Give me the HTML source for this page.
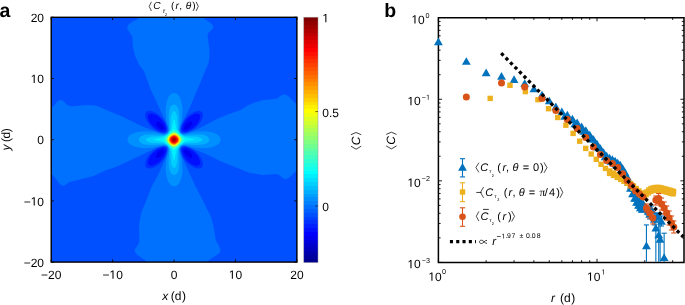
<!DOCTYPE html>
<html><head><meta charset="utf-8"><title>figure</title>
<style>html,body{margin:0;padding:0;background:#fff;width:685px;height:305px;overflow:hidden}svg{display:block}text{stroke:none;fill:#000}svg{will-change:transform}</style>
</head><body>
<svg xmlns="http://www.w3.org/2000/svg" width="685" height="305" viewBox="0 0 685 305" font-family='"Liberation Sans", sans-serif' text-rendering="geometricPrecision">
<defs><clipPath id="clipA"><rect x="51.2" y="17.3" width="245.70" height="244.80"/></clipPath>
<clipPath id="clipB"><rect x="438.4" y="17.7" width="245.60" height="244.70"/></clipPath></defs>
<rect width="685" height="305" fill="#fff"/>
<g>
<g clip-path="url(#clipA)"><rect x="51.2" y="17.3" width="245.70" height="244.80" fill="#0000ef"/>
<path fill="#0010ff" fill-rule="evenodd" d="M296.7 261.8 51.4 261.8 51.4 17.5 296.7 17.5 296.7 261.8ZM163.1 129.8 164.0 129.1 164.2 127.8 162.7 124.6 159.0 121.8 157.4 121.4 156.3 121.8 156.0 124.1 157.7 127.1 160.0 129.1 163.1 129.8ZM186.4 129.8 188.6 128.8 191.1 126.1 192.3 123.5 191.7 121.7 190.4 121.5 188.4 122.2 184.7 125.5 183.9 127.5 184.0 129.0 185.0 129.8 186.4 129.8ZM158.4 157.8 161.0 156.4 163.2 154.1 164.2 151.5 163.5 149.8 162.0 149.5 160.0 150.3 156.9 153.5 155.9 155.5 155.9 157.1 156.7 157.9 158.4 157.8ZM191.5 157.8 192.3 156.8 192.2 155.5 190.2 152.1 187.0 149.8 185.4 149.5 184.4 150.0 184.0 152.1 185.7 155.1 189.0 157.5 191.5 157.8Z"/>
<path fill="#0030ff" fill-rule="evenodd" d="M296.7 261.8 51.4 261.8 51.4 17.5 296.7 17.5 296.7 261.8ZM163.9 131.8 165.7 130.6 166.2 128.5 164.7 124.1 161.9 119.8 158.8 116.8 155.0 114.5 151.4 113.5 149.0 114.1 147.9 115.8 148.1 118.5 149.4 121.7 151.7 125.1 157.4 129.8 161.7 131.6 163.9 131.8ZM185.5 131.8 191.8 129.1 197.0 124.3 199.0 121.1 200.1 118.1 200.2 115.8 199.1 114.1 196.7 113.5 193.0 114.5 189.0 117.0 185.7 120.5 183.4 124.2 181.9 128.8 182.8 131.1 185.5 131.8ZM152.3 165.8 158.1 163.1 163.0 158.1 164.8 155.1 166.2 151.1 166.1 149.5 165.0 148.1 162.7 147.6 157.7 149.5 153.9 152.1 150.7 155.6 148.4 159.8 147.9 163.5 149.4 165.5 152.3 165.8ZM198.0 165.8 199.8 164.5 200.2 161.8 199.0 158.2 196.5 154.5 193.4 151.4 189.7 149.1 185.0 147.5 183.0 148.1 182.0 149.8 182.1 151.8 183.7 155.9 186.4 159.7 189.2 162.5 192.4 164.6 195.4 165.7 198.0 165.8Z"/>
<path fill="#0050ff" fill-rule="evenodd" d="M296.7 261.8 51.4 261.8 51.4 17.5 296.7 17.5 296.7 261.8ZM164.6 132.8 166.7 131.4 167.2 128.1 165.1 122.1 162.4 118.2 158.0 114.2 153.4 111.6 149.4 110.8 146.4 111.8 145.2 114.1 145.5 117.5 147.2 121.5 150.3 125.8 153.5 128.8 157.1 131.1 161.8 132.8 164.6 132.8ZM186.3 132.8 193.2 129.8 196.9 126.8 199.4 123.8 201.6 120.1 202.8 116.5 202.8 113.5 201.4 111.5 198.0 110.8 193.4 112.2 188.4 115.5 184.4 119.9 181.7 125.3 180.9 129.8 181.4 131.5 182.6 132.5 186.3 132.8ZM150.9 168.5 154.4 167.3 158.4 164.9 164.0 159.1 165.8 155.8 167.2 151.5 167.1 148.8 165.9 147.1 162.7 146.5 156.9 148.5 152.5 151.5 148.5 155.8 145.8 160.8 145.2 165.5 145.9 167.1 147.0 168.1 150.9 168.5ZM200.1 168.5 202.4 166.8 202.9 163.5 201.6 159.1 198.3 154.1 194.4 150.4 190.0 147.9 185.2 146.5 182.0 147.3 180.9 149.5 181.0 152.1 183.0 157.4 185.7 161.2 189.0 164.4 193.0 167.0 196.7 168.4 200.1 168.5Z"/>
<path fill="#0070ff" fill-rule="evenodd" d="M207.4 261.8 146.0 261.8 144.4 259.8 137.0 254.8 134.9 252.1 134.8 249.5 138.2 244.5 139.4 241.1 139.0 225.8 140.7 214.2 151.7 186.6 158.6 174.1 166.7 155.2 168.0 149.1 167.6 147.8 165.9 146.1 162.7 145.9 158.0 147.2 117.0 166.6 104.7 170.8 93.7 176.1 69.7 182.1 64.0 185.8 62.0 185.6 59.8 184.1 53.4 175.8 51.4 174.3 51.4 107.6 53.4 106.2 57.0 101.8 59.7 100.1 62.7 100.4 67.0 104.7 70.0 106.1 73.0 106.3 86.0 105.0 95.7 105.6 122.7 116.8 142.0 126.2 159.0 132.6 162.0 133.5 165.0 133.6 167.7 131.5 167.8 127.8 166.4 123.5 150.3 88.5 144.1 71.5 138.8 64.1 135.1 56.1 132.9 47.1 132.3 36.5 127.2 28.8 127.4 26.6 128.9 24.1 132.4 21.7 137.7 19.1 139.4 17.5 203.3 17.5 204.7 19.1 210.8 23.1 212.9 25.8 213.2 27.5 212.7 28.8 208.5 32.8 207.5 35.1 209.4 49.8 209.4 57.1 208.5 63.1 189.7 108.0 181.3 124.5 180.3 127.8 180.1 130.5 180.7 131.9 182.4 133.4 186.7 133.3 198.4 128.8 218.4 118.3 229.7 113.7 240.0 110.2 248.5 105.1 253.4 102.9 263.7 99.9 276.7 98.8 282.7 94.6 285.1 94.5 288.0 95.7 294.7 102.4 296.7 103.8 296.7 171.2 294.7 172.3 290.0 177.0 287.0 178.7 285.0 179.0 283.4 178.6 279.1 175.1 276.7 174.1 262.4 174.9 249.4 172.8 221.0 161.5 209.7 155.8 189.0 146.9 186.0 146.0 183.0 145.8 180.4 148.0 180.1 150.1 180.7 153.1 185.2 164.1 194.9 185.1 210.4 215.5 213.2 224.5 215.8 240.1 220.4 249.1 220.2 251.8 218.7 253.8 209.8 259.5 207.4 261.8Z"/>
<path fill="#008fff" fill-rule="evenodd" d="M175.0 186.2 172.0 185.9 169.7 184.1 168.1 181.5 166.4 176.1 165.5 169.5 165.9 162.1 168.6 149.8 168.3 148.1 167.3 146.5 165.7 145.5 163.7 145.2 153.7 147.6 144.4 148.2 140.4 147.8 135.7 146.9 130.6 144.8 128.3 142.5 127.4 139.8 128.3 136.8 130.7 134.5 135.7 132.5 140.4 131.6 144.4 131.2 154.0 131.8 163.7 134.3 165.7 134.0 167.4 132.9 168.4 131.1 168.6 129.5 166.1 119.5 165.5 110.1 165.9 106.1 166.9 101.1 169.0 96.1 171.4 93.9 174.0 93.1 176.7 93.8 179.1 96.1 181.2 101.1 182.2 106.1 182.6 110.1 182.0 119.5 179.5 129.5 179.7 131.1 180.7 132.9 182.4 134.0 184.4 134.3 194.4 131.8 203.7 131.2 207.7 131.5 212.7 132.6 217.7 134.7 220.0 137.1 220.7 139.8 219.8 142.5 217.5 144.8 212.4 146.9 207.7 147.9 203.7 148.2 194.4 147.6 184.4 145.2 182.4 145.5 180.8 146.5 179.6 148.5 179.5 150.1 181.9 159.8 182.6 169.1 182.3 172.8 181.3 177.8 179.6 182.5 177.7 184.9 175.0 186.2Z"/>
<path fill="#00afff" fill-rule="evenodd" d="M174.0 175.2 171.0 173.4 169.2 169.5 168.6 161.8 169.2 149.8 167.7 146.1 164.0 144.5 152.0 145.1 144.4 144.6 140.4 142.7 138.6 139.8 140.2 136.8 144.4 134.8 152.4 134.3 164.4 134.9 167.7 133.3 169.2 129.8 168.6 117.8 169.2 110.1 171.0 106.0 174.0 104.2 177.0 105.9 178.9 110.1 179.5 117.8 178.9 129.8 180.4 133.3 183.7 134.9 195.7 134.3 203.7 134.8 207.9 136.8 209.5 139.8 207.7 142.8 203.7 144.6 196.0 145.1 184.0 144.5 180.4 146.1 178.9 149.5 179.5 161.8 178.9 169.5 177.0 173.5 174.0 175.2Z"/>
<path fill="#00cfff" fill-rule="evenodd" d="M174.4 168.2 172.7 167.3 171.2 163.8 170.2 149.8 168.0 145.8 164.0 143.5 150.4 142.7 146.6 141.1 145.5 139.8 146.3 138.5 150.1 136.8 164.0 135.9 168.0 133.6 170.2 129.5 171.1 116.1 172.7 112.1 174.0 111.1 175.4 112.1 177.0 116.1 177.9 129.5 180.0 133.6 184.0 135.9 198.0 136.8 201.8 138.5 202.6 139.8 201.5 141.1 197.7 142.7 184.0 143.5 180.1 145.8 177.9 149.8 177.0 163.3 175.7 166.7 174.4 168.2Z"/>
<path fill="#00efff" fill-rule="evenodd" d="M174.4 159.9 173.5 159.5 171.5 150.1 168.3 145.5 163.7 142.3 153.8 139.8 154.2 139.1 163.7 137.1 168.4 133.9 171.4 129.5 173.4 120.4 174.0 119.5 174.7 120.2 176.7 129.5 179.7 133.8 184.4 137.1 193.9 139.1 194.3 139.8 184.4 142.3 179.8 145.5 176.6 150.1 174.4 159.9Z"/>
<path fill="#10ffef" fill-rule="evenodd" d="M174.4 150.5 172.4 149.6 168.5 145.1 164.2 141.5 163.2 139.8 164.4 137.8 168.6 134.1 172.4 129.8 174.0 128.8 175.7 129.8 179.5 134.1 183.7 137.8 184.9 139.8 183.9 141.5 174.4 150.5Z"/>
<path fill="#30ffcf" fill-rule="evenodd" d="M174.7 148.9 173.4 148.9 171.0 147.1 166.4 142.5 164.7 139.8 165.2 138.5 167.2 136.1 171.7 131.7 174.0 130.4 176.4 131.7 180.9 136.1 182.9 138.5 183.4 139.8 181.4 142.8 174.7 148.9Z"/>
<path fill="#50ffaf" fill-rule="evenodd" d="M174.7 147.8 172.7 147.6 169.7 145.2 166.6 141.8 165.8 139.8 166.5 137.8 169.0 134.8 172.0 132.2 174.0 131.5 176.0 132.2 178.7 134.5 181.4 137.5 182.3 139.5 181.7 141.5 179.8 143.8 176.7 146.7 174.7 147.8Z"/>
<path fill="#70ff8f" fill-rule="evenodd" d="M174.7 147.1 172.7 146.9 170.0 145.1 167.7 142.5 166.5 139.8 167.1 137.8 169.2 135.1 171.7 133.0 174.0 132.2 176.4 133.0 178.6 134.8 180.8 137.5 181.6 139.5 181.2 141.1 179.4 143.8 177.0 145.9 174.7 147.1Z"/>
<path fill="#8fff70" fill-rule="evenodd" d="M175.0 146.6 173.0 146.5 170.7 145.3 168.0 142.5 167.1 140.1 167.4 138.1 168.9 135.8 171.4 133.6 173.7 132.7 175.7 133.1 178.0 134.6 180.2 137.1 181.0 139.5 180.6 141.5 179.3 143.5 177.0 145.6 175.0 146.6Z"/>
<path fill="#afff50" fill-rule="evenodd" d="M175.0 146.2 173.0 146.2 170.7 144.9 168.4 142.5 167.5 140.1 167.8 138.1 169.3 135.8 171.7 133.8 173.7 133.1 175.7 133.4 178.0 135.0 180.0 137.5 180.7 139.5 180.4 141.1 179.2 143.1 177.0 145.2 175.0 146.2Z"/>
<path fill="#cfff30" fill-rule="evenodd" d="M175.0 145.8 173.0 145.8 170.7 144.6 168.5 142.1 167.8 140.1 168.1 138.1 169.4 136.1 171.4 134.3 173.7 133.4 175.7 133.8 177.7 135.1 179.5 137.1 180.3 139.5 179.9 141.5 178.8 143.1 175.0 145.8Z"/>
<path fill="#efff10" fill-rule="evenodd" d="M175.0 145.5 173.0 145.5 171.0 144.5 169.1 142.5 168.1 140.1 168.4 138.1 169.7 136.1 171.7 134.5 173.7 133.8 175.4 134.0 177.4 135.1 179.2 137.1 180.0 139.1 179.8 140.8 178.8 142.8 177.0 144.5 175.0 145.5Z"/>
<path fill="#ffef00" fill-rule="evenodd" d="M175.0 145.2 173.0 145.2 171.0 144.2 169.2 142.1 168.4 140.1 168.6 138.5 169.7 136.5 171.7 134.8 173.7 134.1 175.4 134.3 177.4 135.5 178.9 137.1 179.7 139.1 179.5 140.8 178.5 142.8 175.0 145.2Z"/>
<path fill="#ffcf00" fill-rule="evenodd" d="M175.4 144.8 173.7 145.1 171.7 144.3 169.7 142.5 168.8 140.5 168.8 138.8 169.8 136.8 171.4 135.3 173.4 134.4 175.4 134.6 177.0 135.5 178.6 137.1 179.4 139.1 179.3 140.8 178.4 142.5 175.4 144.8Z"/>
<path fill="#ffaf00" fill-rule="evenodd" d="M175.4 144.6 173.4 144.7 171.7 144.0 170.0 142.5 169.0 140.5 169.1 138.8 170.0 136.9 171.7 135.4 173.4 134.7 175.0 134.7 176.7 135.6 179.0 138.8 179.1 140.5 178.3 142.1 175.4 144.6Z"/>
<path fill="#ff8f00" fill-rule="evenodd" d="M174.4 144.5 172.7 144.3 171.0 143.2 169.7 141.5 169.2 139.8 169.6 138.1 170.7 136.5 173.7 134.9 175.4 135.1 177.0 136.1 178.4 137.8 178.9 139.5 178.6 141.1 177.5 142.8 174.4 144.5Z"/>
<path fill="#ff7000" fill-rule="evenodd" d="M174.7 144.2 173.0 144.1 171.4 143.2 169.5 140.1 169.7 138.5 170.7 136.8 173.7 135.2 175.4 135.4 177.0 136.5 178.6 139.5 177.7 142.2 174.7 144.2Z"/>
<path fill="#ff5000" fill-rule="evenodd" d="M175.0 143.8 172.0 143.3 169.9 140.5 170.6 137.5 173.4 135.5 176.4 136.3 178.3 139.1 177.6 141.8 175.0 143.8Z"/>
<path fill="#ff3000" fill-rule="evenodd" d="M175.0 143.5 173.4 143.6 172.0 143.0 170.2 140.5 170.7 137.8 173.4 135.8 176.1 136.5 177.9 139.1 177.3 141.8 175.0 143.5Z"/>
<path fill="#ff1000" fill-rule="evenodd" d="M175.0 143.2 172.4 142.8 170.5 140.5 171.0 137.8 173.5 136.1 176.0 136.7 177.6 139.1 177.1 141.5 175.0 143.2Z"/>
<path fill="#ef0000" fill-rule="evenodd" d="M174.4 142.8 172.0 142.0 170.9 139.8 171.7 137.8 173.7 136.6 176.0 137.4 177.2 139.5 176.4 141.6 174.4 142.8Z"/>
<path fill="#cf0000" fill-rule="evenodd" d="M174.4 142.2 172.7 141.7 171.6 140.1 172.0 138.3 173.7 137.2 175.6 137.8 176.5 139.5 176.0 141.1 174.4 142.2Z"/>
<path fill="#af0000" fill-rule="evenodd" d="M174.4 141.5 173.0 141.2 172.3 140.1 172.5 138.8 173.7 137.9 175.0 138.2 175.8 139.5 175.5 140.8 174.4 141.5Z"/>
<path fill="#8f0000" fill-rule="evenodd" d="M174.0 140.5 173.3 139.8 174.0 138.9 174.8 139.8 174.0 140.5Z"/></g>
<line stroke="#000" stroke-width="0.9" x1="51.20" y1="17.30" x2="51.20" y2="19.90"/>
<line stroke="#000" stroke-width="0.9" x1="51.20" y1="262.10" x2="51.20" y2="259.50"/>
<line stroke="#000" stroke-width="0.9" x1="51.20" y1="262.10" x2="53.80" y2="262.10"/>
<line stroke="#000" stroke-width="0.9" x1="296.90" y1="262.10" x2="294.30" y2="262.10"/>
<line stroke="#000" stroke-width="0.9" x1="112.63" y1="17.30" x2="112.63" y2="19.90"/>
<line stroke="#000" stroke-width="0.9" x1="112.63" y1="262.10" x2="112.63" y2="259.50"/>
<line stroke="#000" stroke-width="0.9" x1="51.20" y1="200.90" x2="53.80" y2="200.90"/>
<line stroke="#000" stroke-width="0.9" x1="296.90" y1="200.90" x2="294.30" y2="200.90"/>
<line stroke="#000" stroke-width="0.9" x1="174.05" y1="17.30" x2="174.05" y2="19.90"/>
<line stroke="#000" stroke-width="0.9" x1="174.05" y1="262.10" x2="174.05" y2="259.50"/>
<line stroke="#000" stroke-width="0.9" x1="51.20" y1="139.70" x2="53.80" y2="139.70"/>
<line stroke="#000" stroke-width="0.9" x1="296.90" y1="139.70" x2="294.30" y2="139.70"/>
<line stroke="#000" stroke-width="0.9" x1="235.48" y1="17.30" x2="235.48" y2="19.90"/>
<line stroke="#000" stroke-width="0.9" x1="235.48" y1="262.10" x2="235.48" y2="259.50"/>
<line stroke="#000" stroke-width="0.9" x1="51.20" y1="78.50" x2="53.80" y2="78.50"/>
<line stroke="#000" stroke-width="0.9" x1="296.90" y1="78.50" x2="294.30" y2="78.50"/>
<line stroke="#000" stroke-width="0.9" x1="296.90" y1="17.30" x2="296.90" y2="19.90"/>
<line stroke="#000" stroke-width="0.9" x1="296.90" y1="262.10" x2="296.90" y2="259.50"/>
<line stroke="#000" stroke-width="0.9" x1="51.20" y1="17.30" x2="53.80" y2="17.30"/>
<line stroke="#000" stroke-width="0.9" x1="296.90" y1="17.30" x2="294.30" y2="17.30"/>
<rect x="51.20" y="17.30" width="245.70" height="244.80" fill="none" stroke="#000" stroke-width="1.4"/>
<text x="51.20" y="278.70" font-size="12" text-anchor="middle" >−20</text>
<text x="44.00" y="266.70" font-size="12" text-anchor="end" >−20</text>
<text x="102.45" y="278.70" font-size="12">−</text><path d="M112.47 278.70 112.47 271.45 110.61 272.78 110.61 271.79 112.56 270.44 113.53 270.44 113.53 278.70Z" fill="#000"/><text x="116.13" y="278.70" font-size="12">0</text>
<text x="23.64" y="205.50" font-size="12">−</text><path d="M33.67 205.50 33.67 198.25 31.81 199.58 31.81 198.59 33.76 197.24 34.73 197.24 34.73 205.50Z" fill="#000"/><text x="37.33" y="205.50" font-size="12">0</text>
<text x="174.05" y="278.70" font-size="12" text-anchor="middle" >0</text>
<text x="44.00" y="144.30" font-size="12" text-anchor="end" >0</text>
<path d="M231.82 278.70 231.82 271.45 229.96 272.78 229.96 271.79 231.91 270.44 232.88 270.44 232.88 278.70Z" fill="#000"/><text x="235.48" y="278.70" font-size="12">0</text>
<path d="M33.67 83.10 33.67 75.85 31.81 77.18 31.81 76.19 33.76 74.84 34.73 74.84 34.73 83.10Z" fill="#000"/><text x="37.33" y="83.10" font-size="12">0</text>
<text x="296.90" y="278.70" font-size="12" text-anchor="middle" >20</text>
<text x="44.00" y="21.90" font-size="12" text-anchor="end" >20</text>
<text x="162.33" y="300.30" font-size="12" font-style="italic">x</text><text x="170.81" y="300.30" font-size="12">(</text><text x="174.75" y="300.30" font-size="12">d</text><text x="181.98" y="300.30" font-size="12">)</text>
<text transform="translate(9.60,150.42) rotate(-90)" font-size="12" font-style="italic">y</text><text transform="translate(9.60,141.94) rotate(-90)" font-size="12">(</text><text transform="translate(9.60,138.50) rotate(-90)" font-size="12">d</text><text transform="translate(9.60,132.17) rotate(-90)" font-size="12">)</text>
<polyline points="151.40,1.80 149.20,6.40 151.40,11.00" fill="none" stroke="#000" stroke-width="0.7"/>
<text x="153.19" y="9.30" font-size="10.2" font-style="italic">C</text>
<text x="162.73" y="13.40" font-size="6.0" font-style="italic">τ</text>
<text x="164.95" y="15.50" font-size="4.0">2</text>
<text x="171.12" y="9.30" font-size="10.2">(</text>
<text x="175.48" y="9.30" font-size="10.2" font-style="italic">r</text>
<text x="179.13" y="9.30" font-size="10.2">,</text>
<text x="185.65" y="9.30" font-size="10.2" font-style="italic">θ</text>
<text x="192.19" y="9.30" font-size="10.2">)</text>
<polyline points="196.10,1.80 198.30,6.40 196.10,11.00" fill="none" stroke="#000" stroke-width="0.7"/>
<text x="-0.50" y="17.20" font-size="19.5" text-anchor="start" font-weight="bold">a</text>
<defs><linearGradient id="cb" x1="0" y1="0" x2="0" y2="1"><stop offset="0.0000" stop-color="#800000"/><stop offset="0.0156" stop-color="#800000"/><stop offset="0.0156" stop-color="#8f0000"/><stop offset="0.0312" stop-color="#8f0000"/><stop offset="0.0312" stop-color="#9f0000"/><stop offset="0.0469" stop-color="#9f0000"/><stop offset="0.0469" stop-color="#af0000"/><stop offset="0.0625" stop-color="#af0000"/><stop offset="0.0625" stop-color="#bf0000"/><stop offset="0.0781" stop-color="#bf0000"/><stop offset="0.0781" stop-color="#cf0000"/><stop offset="0.0938" stop-color="#cf0000"/><stop offset="0.0938" stop-color="#df0000"/><stop offset="0.1094" stop-color="#df0000"/><stop offset="0.1094" stop-color="#ef0000"/><stop offset="0.1250" stop-color="#ef0000"/><stop offset="0.1250" stop-color="#ff0000"/><stop offset="0.1406" stop-color="#ff0000"/><stop offset="0.1406" stop-color="#ff1000"/><stop offset="0.1562" stop-color="#ff1000"/><stop offset="0.1562" stop-color="#ff2000"/><stop offset="0.1719" stop-color="#ff2000"/><stop offset="0.1719" stop-color="#ff3000"/><stop offset="0.1875" stop-color="#ff3000"/><stop offset="0.1875" stop-color="#ff4000"/><stop offset="0.2031" stop-color="#ff4000"/><stop offset="0.2031" stop-color="#ff5000"/><stop offset="0.2188" stop-color="#ff5000"/><stop offset="0.2188" stop-color="#ff6000"/><stop offset="0.2344" stop-color="#ff6000"/><stop offset="0.2344" stop-color="#ff7000"/><stop offset="0.2500" stop-color="#ff7000"/><stop offset="0.2500" stop-color="#ff8000"/><stop offset="0.2656" stop-color="#ff8000"/><stop offset="0.2656" stop-color="#ff8f00"/><stop offset="0.2812" stop-color="#ff8f00"/><stop offset="0.2812" stop-color="#ff9f00"/><stop offset="0.2969" stop-color="#ff9f00"/><stop offset="0.2969" stop-color="#ffaf00"/><stop offset="0.3125" stop-color="#ffaf00"/><stop offset="0.3125" stop-color="#ffbf00"/><stop offset="0.3281" stop-color="#ffbf00"/><stop offset="0.3281" stop-color="#ffcf00"/><stop offset="0.3438" stop-color="#ffcf00"/><stop offset="0.3438" stop-color="#ffdf00"/><stop offset="0.3594" stop-color="#ffdf00"/><stop offset="0.3594" stop-color="#ffef00"/><stop offset="0.3750" stop-color="#ffef00"/><stop offset="0.3750" stop-color="#ffff00"/><stop offset="0.3906" stop-color="#ffff00"/><stop offset="0.3906" stop-color="#efff10"/><stop offset="0.4062" stop-color="#efff10"/><stop offset="0.4062" stop-color="#dfff20"/><stop offset="0.4219" stop-color="#dfff20"/><stop offset="0.4219" stop-color="#cfff30"/><stop offset="0.4375" stop-color="#cfff30"/><stop offset="0.4375" stop-color="#bfff40"/><stop offset="0.4531" stop-color="#bfff40"/><stop offset="0.4531" stop-color="#afff50"/><stop offset="0.4688" stop-color="#afff50"/><stop offset="0.4688" stop-color="#9fff60"/><stop offset="0.4844" stop-color="#9fff60"/><stop offset="0.4844" stop-color="#8fff70"/><stop offset="0.5000" stop-color="#8fff70"/><stop offset="0.5000" stop-color="#80ff80"/><stop offset="0.5156" stop-color="#80ff80"/><stop offset="0.5156" stop-color="#70ff8f"/><stop offset="0.5312" stop-color="#70ff8f"/><stop offset="0.5312" stop-color="#60ff9f"/><stop offset="0.5469" stop-color="#60ff9f"/><stop offset="0.5469" stop-color="#50ffaf"/><stop offset="0.5625" stop-color="#50ffaf"/><stop offset="0.5625" stop-color="#40ffbf"/><stop offset="0.5781" stop-color="#40ffbf"/><stop offset="0.5781" stop-color="#30ffcf"/><stop offset="0.5938" stop-color="#30ffcf"/><stop offset="0.5938" stop-color="#20ffdf"/><stop offset="0.6094" stop-color="#20ffdf"/><stop offset="0.6094" stop-color="#10ffef"/><stop offset="0.6250" stop-color="#10ffef"/><stop offset="0.6250" stop-color="#00ffff"/><stop offset="0.6406" stop-color="#00ffff"/><stop offset="0.6406" stop-color="#00efff"/><stop offset="0.6562" stop-color="#00efff"/><stop offset="0.6562" stop-color="#00dfff"/><stop offset="0.6719" stop-color="#00dfff"/><stop offset="0.6719" stop-color="#00cfff"/><stop offset="0.6875" stop-color="#00cfff"/><stop offset="0.6875" stop-color="#00bfff"/><stop offset="0.7031" stop-color="#00bfff"/><stop offset="0.7031" stop-color="#00afff"/><stop offset="0.7188" stop-color="#00afff"/><stop offset="0.7188" stop-color="#009fff"/><stop offset="0.7344" stop-color="#009fff"/><stop offset="0.7344" stop-color="#008fff"/><stop offset="0.7500" stop-color="#008fff"/><stop offset="0.7500" stop-color="#0080ff"/><stop offset="0.7656" stop-color="#0080ff"/><stop offset="0.7656" stop-color="#0070ff"/><stop offset="0.7812" stop-color="#0070ff"/><stop offset="0.7812" stop-color="#0060ff"/><stop offset="0.7969" stop-color="#0060ff"/><stop offset="0.7969" stop-color="#0050ff"/><stop offset="0.8125" stop-color="#0050ff"/><stop offset="0.8125" stop-color="#0040ff"/><stop offset="0.8281" stop-color="#0040ff"/><stop offset="0.8281" stop-color="#0030ff"/><stop offset="0.8438" stop-color="#0030ff"/><stop offset="0.8438" stop-color="#0020ff"/><stop offset="0.8594" stop-color="#0020ff"/><stop offset="0.8594" stop-color="#0010ff"/><stop offset="0.8750" stop-color="#0010ff"/><stop offset="0.8750" stop-color="#0000ff"/><stop offset="0.8906" stop-color="#0000ff"/><stop offset="0.8906" stop-color="#0000ef"/><stop offset="0.9062" stop-color="#0000ef"/><stop offset="0.9062" stop-color="#0000df"/><stop offset="0.9219" stop-color="#0000df"/><stop offset="0.9219" stop-color="#0000cf"/><stop offset="0.9375" stop-color="#0000cf"/><stop offset="0.9375" stop-color="#0000bf"/><stop offset="0.9531" stop-color="#0000bf"/><stop offset="0.9531" stop-color="#0000af"/><stop offset="0.9688" stop-color="#0000af"/><stop offset="0.9688" stop-color="#00009f"/><stop offset="0.9844" stop-color="#00009f"/><stop offset="0.9844" stop-color="#00008f"/><stop offset="1.0000" stop-color="#00008f"/></linearGradient></defs>
<rect x="303.8" y="17.2" width="14.20" height="245.40" fill="url(#cb)" stroke="#999" stroke-width="0.5"/>
<path d="M325.32 22.20 325.32 14.95 323.45 16.28 323.45 15.29 325.41 13.94 326.38 13.94 326.38 22.20Z" fill="#000"/>
<line stroke="#000" x1="315.40" y1="111.58" x2="318.00" y2="111.58" stroke-width="0.6"/>
<text x="322.30" y="116.58" font-size="12" text-anchor="start" >0.5</text>
<line stroke="#000" x1="315.40" y1="205.97" x2="318.00" y2="205.97" stroke-width="0.6"/>
<text x="322.30" y="210.97" font-size="12" text-anchor="start" >0</text>
<polyline points="350.90,134.70 356.10,132.50 361.20,134.70" fill="none" stroke="#000" stroke-width="0.75"/><polyline points="350.90,146.20 356.10,149.20 361.20,146.20" fill="none" stroke="#000" stroke-width="0.75"/><text transform="translate(359.50,145.16) rotate(-90)" font-size="12" font-style="italic">C</text>
<text x="384.20" y="17.30" font-size="19.5" text-anchor="start" font-weight="bold">b</text>
<line stroke="#000" stroke-width="0.9" x1="438.40" y1="262.40" x2="438.40" y2="258.80"/>
<line stroke="#000" stroke-width="0.9" x1="438.40" y1="17.70" x2="438.40" y2="21.30"/>
<line stroke="#000" stroke-width="0.9" x1="486.14" y1="262.40" x2="486.14" y2="260.20"/>
<line stroke="#000" stroke-width="0.9" x1="486.14" y1="17.70" x2="486.14" y2="19.90"/>
<line stroke="#000" stroke-width="0.9" x1="514.07" y1="262.40" x2="514.07" y2="260.20"/>
<line stroke="#000" stroke-width="0.9" x1="514.07" y1="17.70" x2="514.07" y2="19.90"/>
<line stroke="#000" stroke-width="0.9" x1="533.89" y1="262.40" x2="533.89" y2="260.20"/>
<line stroke="#000" stroke-width="0.9" x1="533.89" y1="17.70" x2="533.89" y2="19.90"/>
<line stroke="#000" stroke-width="0.9" x1="549.26" y1="262.40" x2="549.26" y2="260.20"/>
<line stroke="#000" stroke-width="0.9" x1="549.26" y1="17.70" x2="549.26" y2="19.90"/>
<line stroke="#000" stroke-width="0.9" x1="561.81" y1="262.40" x2="561.81" y2="260.20"/>
<line stroke="#000" stroke-width="0.9" x1="561.81" y1="17.70" x2="561.81" y2="19.90"/>
<line stroke="#000" stroke-width="0.9" x1="572.43" y1="262.40" x2="572.43" y2="260.20"/>
<line stroke="#000" stroke-width="0.9" x1="572.43" y1="17.70" x2="572.43" y2="19.90"/>
<line stroke="#000" stroke-width="0.9" x1="581.63" y1="262.40" x2="581.63" y2="260.20"/>
<line stroke="#000" stroke-width="0.9" x1="581.63" y1="17.70" x2="581.63" y2="19.90"/>
<line stroke="#000" stroke-width="0.9" x1="589.74" y1="262.40" x2="589.74" y2="260.20"/>
<line stroke="#000" stroke-width="0.9" x1="589.74" y1="17.70" x2="589.74" y2="19.90"/>
<line stroke="#000" stroke-width="0.9" x1="597.00" y1="262.40" x2="597.00" y2="258.80"/>
<line stroke="#000" stroke-width="0.9" x1="597.00" y1="17.70" x2="597.00" y2="21.30"/>
<line stroke="#000" stroke-width="0.9" x1="644.74" y1="262.40" x2="644.74" y2="260.20"/>
<line stroke="#000" stroke-width="0.9" x1="644.74" y1="17.70" x2="644.74" y2="19.90"/>
<line stroke="#000" stroke-width="0.9" x1="672.67" y1="262.40" x2="672.67" y2="260.20"/>
<line stroke="#000" stroke-width="0.9" x1="672.67" y1="17.70" x2="672.67" y2="19.90"/>
<line stroke="#000" stroke-width="0.9" x1="438.40" y1="262.40" x2="442.00" y2="262.40"/>
<line stroke="#000" stroke-width="0.9" x1="684.00" y1="262.40" x2="680.40" y2="262.40"/>
<line stroke="#000" stroke-width="0.9" x1="438.40" y1="237.85" x2="440.60" y2="237.85"/>
<line stroke="#000" stroke-width="0.9" x1="684.00" y1="237.85" x2="681.80" y2="237.85"/>
<line stroke="#000" stroke-width="0.9" x1="438.40" y1="223.48" x2="440.60" y2="223.48"/>
<line stroke="#000" stroke-width="0.9" x1="684.00" y1="223.48" x2="681.80" y2="223.48"/>
<line stroke="#000" stroke-width="0.9" x1="438.40" y1="213.29" x2="440.60" y2="213.29"/>
<line stroke="#000" stroke-width="0.9" x1="684.00" y1="213.29" x2="681.80" y2="213.29"/>
<line stroke="#000" stroke-width="0.9" x1="438.40" y1="205.39" x2="440.60" y2="205.39"/>
<line stroke="#000" stroke-width="0.9" x1="684.00" y1="205.39" x2="681.80" y2="205.39"/>
<line stroke="#000" stroke-width="0.9" x1="438.40" y1="198.93" x2="440.60" y2="198.93"/>
<line stroke="#000" stroke-width="0.9" x1="684.00" y1="198.93" x2="681.80" y2="198.93"/>
<line stroke="#000" stroke-width="0.9" x1="438.40" y1="193.47" x2="440.60" y2="193.47"/>
<line stroke="#000" stroke-width="0.9" x1="684.00" y1="193.47" x2="681.80" y2="193.47"/>
<line stroke="#000" stroke-width="0.9" x1="438.40" y1="188.74" x2="440.60" y2="188.74"/>
<line stroke="#000" stroke-width="0.9" x1="684.00" y1="188.74" x2="681.80" y2="188.74"/>
<line stroke="#000" stroke-width="0.9" x1="438.40" y1="184.57" x2="440.60" y2="184.57"/>
<line stroke="#000" stroke-width="0.9" x1="684.00" y1="184.57" x2="681.80" y2="184.57"/>
<line stroke="#000" stroke-width="0.9" x1="438.40" y1="180.83" x2="442.00" y2="180.83"/>
<line stroke="#000" stroke-width="0.9" x1="684.00" y1="180.83" x2="680.40" y2="180.83"/>
<line stroke="#000" stroke-width="0.9" x1="438.40" y1="156.28" x2="440.60" y2="156.28"/>
<line stroke="#000" stroke-width="0.9" x1="684.00" y1="156.28" x2="681.80" y2="156.28"/>
<line stroke="#000" stroke-width="0.9" x1="438.40" y1="141.92" x2="440.60" y2="141.92"/>
<line stroke="#000" stroke-width="0.9" x1="684.00" y1="141.92" x2="681.80" y2="141.92"/>
<line stroke="#000" stroke-width="0.9" x1="438.40" y1="131.73" x2="440.60" y2="131.73"/>
<line stroke="#000" stroke-width="0.9" x1="684.00" y1="131.73" x2="681.80" y2="131.73"/>
<line stroke="#000" stroke-width="0.9" x1="438.40" y1="123.82" x2="440.60" y2="123.82"/>
<line stroke="#000" stroke-width="0.9" x1="684.00" y1="123.82" x2="681.80" y2="123.82"/>
<line stroke="#000" stroke-width="0.9" x1="438.40" y1="117.36" x2="440.60" y2="117.36"/>
<line stroke="#000" stroke-width="0.9" x1="684.00" y1="117.36" x2="681.80" y2="117.36"/>
<line stroke="#000" stroke-width="0.9" x1="438.40" y1="111.90" x2="440.60" y2="111.90"/>
<line stroke="#000" stroke-width="0.9" x1="684.00" y1="111.90" x2="681.80" y2="111.90"/>
<line stroke="#000" stroke-width="0.9" x1="438.40" y1="107.17" x2="440.60" y2="107.17"/>
<line stroke="#000" stroke-width="0.9" x1="684.00" y1="107.17" x2="681.80" y2="107.17"/>
<line stroke="#000" stroke-width="0.9" x1="438.40" y1="103.00" x2="440.60" y2="103.00"/>
<line stroke="#000" stroke-width="0.9" x1="684.00" y1="103.00" x2="681.80" y2="103.00"/>
<line stroke="#000" stroke-width="0.9" x1="438.40" y1="99.27" x2="442.00" y2="99.27"/>
<line stroke="#000" stroke-width="0.9" x1="684.00" y1="99.27" x2="680.40" y2="99.27"/>
<line stroke="#000" stroke-width="0.9" x1="438.40" y1="74.71" x2="440.60" y2="74.71"/>
<line stroke="#000" stroke-width="0.9" x1="684.00" y1="74.71" x2="681.80" y2="74.71"/>
<line stroke="#000" stroke-width="0.9" x1="438.40" y1="60.35" x2="440.60" y2="60.35"/>
<line stroke="#000" stroke-width="0.9" x1="684.00" y1="60.35" x2="681.80" y2="60.35"/>
<line stroke="#000" stroke-width="0.9" x1="438.40" y1="50.16" x2="440.60" y2="50.16"/>
<line stroke="#000" stroke-width="0.9" x1="684.00" y1="50.16" x2="681.80" y2="50.16"/>
<line stroke="#000" stroke-width="0.9" x1="438.40" y1="42.25" x2="440.60" y2="42.25"/>
<line stroke="#000" stroke-width="0.9" x1="684.00" y1="42.25" x2="681.80" y2="42.25"/>
<line stroke="#000" stroke-width="0.9" x1="438.40" y1="35.80" x2="440.60" y2="35.80"/>
<line stroke="#000" stroke-width="0.9" x1="684.00" y1="35.80" x2="681.80" y2="35.80"/>
<line stroke="#000" stroke-width="0.9" x1="438.40" y1="30.33" x2="440.60" y2="30.33"/>
<line stroke="#000" stroke-width="0.9" x1="684.00" y1="30.33" x2="681.80" y2="30.33"/>
<line stroke="#000" stroke-width="0.9" x1="438.40" y1="25.60" x2="440.60" y2="25.60"/>
<line stroke="#000" stroke-width="0.9" x1="684.00" y1="25.60" x2="681.80" y2="25.60"/>
<line stroke="#000" stroke-width="0.9" x1="438.40" y1="21.43" x2="440.60" y2="21.43"/>
<line stroke="#000" stroke-width="0.9" x1="684.00" y1="21.43" x2="681.80" y2="21.43"/>
<path d="M438.4 17.7H684.0V262.4H438.4Z" fill="none" stroke="#000" stroke-width="1.5"/>
<text x="425.42" y="18.10" font-size="7.2">0</text>
<path d="M414.44 23.60 414.44 16.35 412.58 17.68 412.58 16.69 414.53 15.34 415.50 15.34 415.50 23.60Z" fill="#000"/><text x="418.09" y="23.60" font-size="12">0</text>
<text x="421.84" y="99.67" font-size="7.2">−</text><path d="M427.86 99.67 427.86 95.32 426.74 96.12 426.74 95.52 427.91 94.71 428.50 94.71 428.50 99.67Z" fill="#000"/>
<path d="M410.44 105.17 410.44 97.92 408.58 99.25 408.58 98.25 410.53 96.91 411.50 96.91 411.50 105.17Z" fill="#000"/><text x="414.09" y="105.17" font-size="12">0</text>
<text x="421.84" y="181.23" font-size="7.2">−2</text>
<path d="M410.44 186.73 410.44 179.49 408.58 180.82 408.58 179.82 410.53 178.48 411.50 178.48 411.50 186.73Z" fill="#000"/><text x="414.09" y="186.73" font-size="12">0</text>
<text x="421.84" y="262.80" font-size="7.2">−3</text>
<path d="M410.44 268.30 410.44 261.05 408.58 262.38 408.58 261.39 410.53 260.04 411.50 260.04 411.50 268.30Z" fill="#000"/><text x="414.09" y="268.30" font-size="12">0</text>
<path d="M431.40 280.70 431.40 273.45 429.54 274.78 429.54 273.79 431.49 272.44 432.46 272.44 432.46 280.70Z" fill="#000"/><text x="435.06" y="280.70" font-size="12">0</text>
<text x="442.12" y="274.40" font-size="7.2">0</text>
<path d="M590.00 280.70 590.00 273.45 588.14 274.78 588.14 273.79 590.09 272.44 591.06 272.44 591.06 280.70Z" fill="#000"/><text x="593.66" y="280.70" font-size="12">0</text>
<path d="M603.16 274.40 603.16 270.05 602.04 270.85 602.04 270.25 603.21 269.45 603.80 269.45 603.80 274.40Z" fill="#000"/>
<text x="550.95" y="301.90" font-size="12" font-style="italic">r</text><text x="560.11" y="301.90" font-size="12">(</text><text x="564.05" y="301.90" font-size="12">d</text><text x="571.28" y="301.90" font-size="12">)</text>
<polyline points="386.20,134.40 391.40,132.20 396.50,134.40" fill="none" stroke="#000" stroke-width="0.75"/><polyline points="386.20,145.90 391.40,148.90 396.50,145.90" fill="none" stroke="#000" stroke-width="0.75"/><text transform="translate(394.80,144.86) rotate(-90)" font-size="12" font-style="italic">C</text>
<g><g stroke="#0072bd" stroke-width="1.1"><line x1="632.53" y1="190.50" x2="632.53" y2="196.50"/><line x1="629.93" y1="190.50" x2="635.13" y2="190.50"/><line x1="629.93" y1="196.50" x2="635.13" y2="196.50"/></g><g stroke="#0072bd" stroke-width="1.1"><line x1="634.55" y1="195.00" x2="634.55" y2="201.00"/><line x1="631.95" y1="195.00" x2="637.15" y2="195.00"/><line x1="631.95" y1="201.00" x2="637.15" y2="201.00"/></g><g stroke="#0072bd" stroke-width="1.1"><line x1="636.52" y1="199.00" x2="636.52" y2="205.00"/><line x1="633.92" y1="199.00" x2="639.12" y2="199.00"/><line x1="633.92" y1="205.00" x2="639.12" y2="205.00"/></g><g stroke="#0072bd" stroke-width="1.1"><line x1="638.44" y1="202.00" x2="638.44" y2="208.00"/><line x1="635.84" y1="202.00" x2="641.04" y2="202.00"/><line x1="635.84" y1="208.00" x2="641.04" y2="208.00"/></g><g stroke="#0072bd" stroke-width="1.1"><line x1="640.30" y1="204.50" x2="640.30" y2="210.50"/><line x1="637.70" y1="204.50" x2="642.90" y2="204.50"/><line x1="637.70" y1="210.50" x2="642.90" y2="210.50"/></g><g stroke="#0072bd" stroke-width="1.1"><line x1="642.11" y1="206.00" x2="642.11" y2="212.00"/><line x1="639.51" y1="206.00" x2="644.71" y2="206.00"/><line x1="639.51" y1="212.00" x2="644.71" y2="212.00"/></g><g stroke="#0072bd" stroke-width="1.1"><line x1="646.44" y1="224.90" x2="646.44" y2="261.70"/><line x1="643.84" y1="224.90" x2="649.04" y2="224.90"/></g><g stroke="#0072bd" stroke-width="1.1"><line x1="648.10" y1="207.00" x2="648.10" y2="215.00"/><line x1="645.50" y1="207.00" x2="650.70" y2="207.00"/><line x1="645.50" y1="215.00" x2="650.70" y2="215.00"/></g><g stroke="#0072bd" stroke-width="1.1"><line x1="649.72" y1="210.00" x2="649.72" y2="219.00"/><line x1="647.12" y1="210.00" x2="652.32" y2="210.00"/><line x1="647.12" y1="219.00" x2="652.32" y2="219.00"/></g><g stroke="#0072bd" stroke-width="1.1"><line x1="651.31" y1="206.00" x2="651.31" y2="213.00"/><line x1="648.71" y1="206.00" x2="653.91" y2="206.00"/><line x1="648.71" y1="213.00" x2="653.91" y2="213.00"/></g><g stroke="#0072bd" stroke-width="1.1"><line x1="654.37" y1="213.00" x2="654.37" y2="225.00"/><line x1="651.77" y1="213.00" x2="656.97" y2="213.00"/><line x1="651.77" y1="225.00" x2="656.97" y2="225.00"/></g><g stroke="#0072bd" stroke-width="1.1"><line x1="655.85" y1="213.60" x2="655.85" y2="261.70"/><line x1="653.25" y1="213.60" x2="658.45" y2="213.60"/></g><g stroke="#0072bd" stroke-width="1.1"><line x1="657.30" y1="213.00" x2="657.30" y2="220.00"/><line x1="654.70" y1="213.00" x2="659.90" y2="213.00"/><line x1="654.70" y1="220.00" x2="659.90" y2="220.00"/></g><g stroke="#0072bd" stroke-width="1.1"><line x1="658.72" y1="214.50" x2="658.72" y2="261.70"/><line x1="656.12" y1="214.50" x2="661.32" y2="214.50"/></g><g stroke="#0072bd" stroke-width="1.1"><line x1="660.11" y1="213.80" x2="660.11" y2="261.70"/><line x1="657.51" y1="213.80" x2="662.71" y2="213.80"/></g><g stroke="#0072bd" stroke-width="1.1"><line x1="661.48" y1="216.00" x2="661.48" y2="226.00"/><line x1="658.88" y1="216.00" x2="664.08" y2="216.00"/><line x1="658.88" y1="226.00" x2="664.08" y2="226.00"/></g><g stroke="#0072bd" stroke-width="1.1"><line x1="664.13" y1="233.20" x2="664.13" y2="261.70"/><line x1="661.53" y1="233.20" x2="666.73" y2="233.20"/></g><path d="M438.40 37.57L442.80 45.23L434.00 45.23Z" fill="#0072bd"/><path d="M466.33 57.17L470.73 64.83L461.93 64.83Z" fill="#0072bd"/><path d="M486.14 68.57L490.54 76.23L481.74 76.23Z" fill="#0072bd"/><path d="M501.51 72.07L505.91 79.73L497.11 79.73Z" fill="#0072bd"/><path d="M514.07 75.37L518.47 83.03L509.67 83.03Z" fill="#0072bd"/><path d="M524.69 79.17L529.09 86.83L520.29 86.83Z" fill="#0072bd"/><path d="M533.89 84.67L538.29 92.33L529.49 92.33Z" fill="#0072bd"/><path d="M542.00 90.67L546.40 98.33L537.60 98.33Z" fill="#0072bd"/><path d="M549.26 96.67L553.66 104.33L544.86 104.33Z" fill="#0072bd"/><path d="M555.82 102.47L560.22 110.13L551.42 110.13Z" fill="#0072bd"/><path d="M561.81 107.47L566.21 115.13L557.41 115.13Z" fill="#0072bd"/><path d="M567.33 110.67L571.73 118.33L562.93 118.33Z" fill="#0072bd"/><path d="M572.43 114.67L576.83 122.33L568.03 122.33Z" fill="#0072bd"/><path d="M577.18 118.57L581.58 126.23L572.78 126.23Z" fill="#0072bd"/><path d="M581.63 122.47L586.03 130.13L577.23 130.13Z" fill="#0072bd"/><path d="M585.81 126.17L590.21 133.83L581.41 133.83Z" fill="#0072bd"/><path d="M589.74 130.67L594.14 138.33L585.34 138.33Z" fill="#0072bd"/><path d="M593.47 135.17L597.87 142.83L589.07 142.83Z" fill="#0072bd"/><path d="M597.00 139.67L601.40 147.33L592.60 147.33Z" fill="#0072bd"/><path d="M600.36 144.17L604.76 151.83L595.96 151.83Z" fill="#0072bd"/><path d="M603.56 148.17L607.96 155.83L599.16 155.83Z" fill="#0072bd"/><path d="M606.63 151.67L611.03 159.33L602.23 159.33Z" fill="#0072bd"/><path d="M609.56 153.67L613.96 161.33L605.16 161.33Z" fill="#0072bd"/><path d="M612.37 155.17L616.77 162.83L607.97 162.83Z" fill="#0072bd"/><path d="M615.07 156.67L619.47 164.33L610.67 164.33Z" fill="#0072bd"/><path d="M617.67 158.67L622.07 166.33L613.27 166.33Z" fill="#0072bd"/><path d="M620.18 160.67L624.58 168.33L615.78 168.33Z" fill="#0072bd"/><path d="M622.59 164.17L626.99 171.83L618.19 171.83Z" fill="#0072bd"/><path d="M624.93 168.17L629.33 175.83L620.53 175.83Z" fill="#0072bd"/><path d="M627.19 172.67L631.59 180.33L622.79 180.33Z" fill="#0072bd"/><path d="M629.37 177.17L633.77 184.83L624.97 184.83Z" fill="#0072bd"/><path d="M631.49 181.17L635.89 188.83L627.09 188.83Z" fill="#0072bd"/><path d="M633.55 184.17L637.95 191.83L629.15 191.83Z" fill="#0072bd"/><path d="M635.55 188.17L639.95 195.83L631.15 195.83Z" fill="#0072bd"/><path d="M637.49 192.17L641.89 199.83L633.09 199.83Z" fill="#0072bd"/><path d="M639.37 195.17L643.77 202.83L634.97 202.83Z" fill="#0072bd"/><path d="M641.21 198.17L645.61 205.83L636.81 205.83Z" fill="#0072bd"/><path d="M643.00 199.17L647.40 206.83L638.60 206.83Z" fill="#0072bd"/><path d="M644.74 202.17L649.14 209.83L640.34 209.83Z" fill="#0072bd"/><path d="M564.63 112.17L569.03 119.83L560.23 119.83Z" fill="#0072bd"/><path d="M569.93 115.67L574.33 123.33L565.53 123.33Z" fill="#0072bd"/><path d="M574.85 119.67L579.25 127.33L570.45 127.33Z" fill="#0072bd"/><path d="M579.44 123.67L583.84 131.33L575.04 131.33Z" fill="#0072bd"/><path d="M583.75 127.17L588.15 134.83L579.35 134.83Z" fill="#0072bd"/><path d="M587.80 131.17L592.20 138.83L583.40 138.83Z" fill="#0072bd"/><path d="M591.63 134.17L596.03 141.83L587.23 141.83Z" fill="#0072bd"/><path d="M595.26 138.67L599.66 146.33L590.86 146.33Z" fill="#0072bd"/><path d="M598.70 143.67L603.10 151.33L594.30 151.33Z" fill="#0072bd"/><path d="M601.98 148.17L606.38 155.83L597.58 155.83Z" fill="#0072bd"/><path d="M605.11 152.67L609.51 160.33L600.71 160.33Z" fill="#0072bd"/><path d="M608.11 155.67L612.51 163.33L603.71 163.33Z" fill="#0072bd"/><path d="M610.98 157.17L615.38 164.83L606.58 164.83Z" fill="#0072bd"/><path d="M613.73 158.67L618.13 166.33L609.33 166.33Z" fill="#0072bd"/><path d="M616.38 160.67L620.78 168.33L611.98 168.33Z" fill="#0072bd"/><path d="M618.93 162.67L623.33 170.33L614.53 170.33Z" fill="#0072bd"/><path d="M621.40 165.17L625.80 172.83L617.00 172.83Z" fill="#0072bd"/><path d="M623.77 168.67L628.17 176.33L619.37 176.33Z" fill="#0072bd"/><path d="M626.07 173.17L630.47 180.83L621.67 180.83Z" fill="#0072bd"/><path d="M628.29 178.17L632.69 185.83L623.89 185.83Z" fill="#0072bd"/><path d="M630.44 184.17L634.84 191.83L626.04 191.83Z" fill="#0072bd"/><path d="M632.53 189.67L636.93 197.33L628.13 197.33Z" fill="#0072bd"/><path d="M634.55 194.17L638.95 201.83L630.15 201.83Z" fill="#0072bd"/><path d="M636.52 198.17L640.92 205.83L632.12 205.83Z" fill="#0072bd"/><path d="M638.44 201.17L642.84 208.83L634.04 208.83Z" fill="#0072bd"/><path d="M640.30 203.67L644.70 211.33L635.90 211.33Z" fill="#0072bd"/><path d="M642.11 205.17L646.51 212.83L637.71 212.83Z" fill="#0072bd"/><path d="M646.44 241.57L650.84 249.23L642.04 249.23Z" fill="#0072bd"/><path d="M648.10 207.17L652.50 214.83L643.70 214.83Z" fill="#0072bd"/><path d="M649.72 210.17L654.12 217.83L645.32 217.83Z" fill="#0072bd"/><path d="M651.31 205.17L655.71 212.83L646.91 212.83Z" fill="#0072bd"/><path d="M654.37 215.17L658.77 222.83L649.97 222.83Z" fill="#0072bd"/><path d="M655.85 223.77L660.25 231.43L651.45 231.43Z" fill="#0072bd"/><path d="M657.30 212.17L661.70 219.83L652.90 219.83Z" fill="#0072bd"/><path d="M658.72 230.67L663.12 238.33L654.32 238.33Z" fill="#0072bd"/><path d="M660.11 234.97L664.51 242.63L655.71 242.63Z" fill="#0072bd"/><path d="M661.48 217.17L665.88 224.83L657.08 224.83Z" fill="#0072bd"/><path d="M664.13 253.37L668.53 261.03L659.73 261.03Z" fill="#0072bd"/><rect x="487.50" y="95.70" width="5.40" height="5.40" fill="#edb120"/><rect x="507.32" y="82.60" width="5.40" height="5.40" fill="#edb120"/><rect x="522.68" y="88.90" width="5.40" height="5.40" fill="#edb120"/><rect x="535.24" y="97.00" width="5.40" height="5.40" fill="#edb120"/><rect x="545.86" y="106.00" width="5.40" height="5.40" fill="#edb120"/><rect x="555.06" y="114.80" width="5.40" height="5.40" fill="#edb120"/><rect x="563.17" y="122.50" width="5.40" height="5.40" fill="#edb120"/><rect x="570.43" y="130.70" width="5.40" height="5.40" fill="#edb120"/><rect x="576.99" y="138.50" width="5.40" height="5.40" fill="#edb120"/><rect x="582.99" y="145.70" width="5.40" height="5.40" fill="#edb120"/><rect x="588.50" y="151.30" width="5.40" height="5.40" fill="#edb120"/><rect x="593.60" y="156.60" width="5.40" height="5.40" fill="#edb120"/><rect x="598.36" y="161.60" width="5.40" height="5.40" fill="#edb120"/><rect x="602.80" y="165.70" width="5.40" height="5.40" fill="#edb120"/><rect x="606.98" y="168.30" width="5.40" height="5.40" fill="#edb120"/><rect x="610.91" y="170.30" width="5.40" height="5.40" fill="#edb120"/><rect x="614.64" y="172.30" width="5.40" height="5.40" fill="#edb120"/><rect x="618.17" y="174.30" width="5.40" height="5.40" fill="#edb120"/><rect x="621.53" y="176.30" width="5.40" height="5.40" fill="#edb120"/><rect x="624.74" y="178.30" width="5.40" height="5.40" fill="#edb120"/><rect x="627.80" y="180.80" width="5.40" height="5.40" fill="#edb120"/><rect x="630.73" y="183.30" width="5.40" height="5.40" fill="#edb120"/><rect x="633.54" y="185.80" width="5.40" height="5.40" fill="#edb120"/><rect x="636.24" y="188.30" width="5.40" height="5.40" fill="#edb120"/><rect x="638.84" y="190.30" width="5.40" height="5.40" fill="#edb120"/><rect x="641.35" y="191.30" width="5.40" height="5.40" fill="#edb120"/><rect x="643.76" y="189.30" width="5.40" height="5.40" fill="#edb120"/><rect x="646.10" y="187.30" width="5.40" height="5.40" fill="#edb120"/><rect x="648.36" y="185.80" width="5.40" height="5.40" fill="#edb120"/><rect x="650.55" y="185.30" width="5.40" height="5.40" fill="#edb120"/><rect x="652.66" y="184.80" width="5.40" height="5.40" fill="#edb120"/><rect x="654.72" y="184.80" width="5.40" height="5.40" fill="#edb120"/><rect x="656.72" y="184.80" width="5.40" height="5.40" fill="#edb120"/><rect x="658.66" y="185.30" width="5.40" height="5.40" fill="#edb120"/><rect x="660.55" y="185.80" width="5.40" height="5.40" fill="#edb120"/><rect x="662.38" y="186.30" width="5.40" height="5.40" fill="#edb120"/><rect x="664.17" y="186.80" width="5.40" height="5.40" fill="#edb120"/><rect x="665.92" y="187.30" width="5.40" height="5.40" fill="#edb120"/><rect x="667.62" y="187.80" width="5.40" height="5.40" fill="#edb120"/><rect x="669.28" y="188.30" width="5.40" height="5.40" fill="#edb120"/><rect x="670.90" y="188.80" width="5.40" height="5.40" fill="#edb120"/><rect x="606.86" y="170.72" width="5.40" height="5.40" fill="#edb120"/><rect x="610.76" y="172.72" width="5.40" height="5.40" fill="#edb120"/><rect x="614.46" y="174.70" width="5.40" height="5.40" fill="#edb120"/><rect x="617.97" y="176.68" width="5.40" height="5.40" fill="#edb120"/><rect x="621.30" y="178.66" width="5.40" height="5.40" fill="#edb120"/><rect x="624.49" y="180.64" width="5.40" height="5.40" fill="#edb120"/><rect x="627.53" y="183.08" width="5.40" height="5.40" fill="#edb120"/><rect x="630.44" y="185.55" width="5.40" height="5.40" fill="#edb120"/><rect x="633.24" y="188.03" width="5.40" height="5.40" fill="#edb120"/><rect x="635.92" y="190.50" width="5.40" height="5.40" fill="#edb120"/><rect x="638.51" y="192.54" width="5.40" height="5.40" fill="#edb120"/><rect x="641.00" y="193.66" width="5.40" height="5.40" fill="#edb120"/><rect x="643.41" y="192.10" width="5.40" height="5.40" fill="#edb120"/><rect x="645.73" y="190.12" width="5.40" height="5.40" fill="#edb120"/><rect x="647.98" y="188.56" width="5.40" height="5.40" fill="#edb120"/><rect x="650.16" y="187.89" width="5.40" height="5.40" fill="#edb120"/><rect x="652.27" y="187.40" width="5.40" height="5.40" fill="#edb120"/><rect x="654.31" y="187.30" width="5.40" height="5.40" fill="#edb120"/><rect x="656.30" y="187.30" width="5.40" height="5.40" fill="#edb120"/><rect x="658.23" y="187.69" width="5.40" height="5.40" fill="#edb120"/><rect x="660.11" y="188.18" width="5.40" height="5.40" fill="#edb120"/><rect x="661.94" y="188.68" width="5.40" height="5.40" fill="#edb120"/><rect x="663.73" y="189.17" width="5.40" height="5.40" fill="#edb120"/><rect x="665.46" y="189.67" width="5.40" height="5.40" fill="#edb120"/><rect x="667.16" y="190.16" width="5.40" height="5.40" fill="#edb120"/><rect x="668.81" y="190.66" width="5.40" height="5.40" fill="#edb120"/><rect x="670.43" y="191.15" width="5.40" height="5.40" fill="#edb120"/><g stroke="#d95319" stroke-width="1.1"><line x1="646.44" y1="204.00" x2="646.44" y2="212.00"/><line x1="643.84" y1="204.00" x2="649.04" y2="204.00"/><line x1="643.84" y1="212.00" x2="649.04" y2="212.00"/></g><g stroke="#d95319" stroke-width="1.1"><line x1="649.72" y1="208.00" x2="649.72" y2="218.00"/><line x1="647.12" y1="208.00" x2="652.32" y2="208.00"/><line x1="647.12" y1="218.00" x2="652.32" y2="218.00"/></g><g stroke="#d95319" stroke-width="1.1"><line x1="652.86" y1="212.00" x2="652.86" y2="224.00"/><line x1="650.26" y1="212.00" x2="655.46" y2="212.00"/><line x1="650.26" y1="224.00" x2="655.46" y2="224.00"/></g><g stroke="#d95319" stroke-width="1.1"><line x1="655.85" y1="196.00" x2="655.85" y2="205.00"/><line x1="653.25" y1="196.00" x2="658.45" y2="196.00"/><line x1="653.25" y1="205.00" x2="658.45" y2="205.00"/></g><g stroke="#d95319" stroke-width="1.1"><line x1="658.72" y1="193.50" x2="658.72" y2="203.50"/><line x1="656.12" y1="193.50" x2="661.32" y2="193.50"/><line x1="656.12" y1="203.50" x2="661.32" y2="203.50"/></g><g stroke="#d95319" stroke-width="1.1"><line x1="661.48" y1="198.00" x2="661.48" y2="210.00"/><line x1="658.88" y1="198.00" x2="664.08" y2="198.00"/><line x1="658.88" y1="210.00" x2="664.08" y2="210.00"/></g><g stroke="#d95319" stroke-width="1.1"><line x1="664.13" y1="202.00" x2="664.13" y2="214.00"/><line x1="661.53" y1="202.00" x2="666.73" y2="202.00"/><line x1="661.53" y1="214.00" x2="666.73" y2="214.00"/></g><g stroke="#d95319" stroke-width="1.1"><line x1="666.68" y1="206.00" x2="666.68" y2="220.00"/><line x1="664.08" y1="206.00" x2="669.28" y2="206.00"/><line x1="664.08" y1="220.00" x2="669.28" y2="220.00"/></g><g stroke="#d95319" stroke-width="1.1"><line x1="669.14" y1="211.00" x2="669.14" y2="225.00"/><line x1="666.54" y1="211.00" x2="671.74" y2="211.00"/><line x1="666.54" y1="225.00" x2="671.74" y2="225.00"/></g><g stroke="#d95319" stroke-width="1.1"><line x1="671.51" y1="216.00" x2="671.51" y2="230.00"/><line x1="668.91" y1="216.00" x2="674.11" y2="216.00"/><line x1="668.91" y1="230.00" x2="674.11" y2="230.00"/></g><g stroke="#d95319" stroke-width="1.1"><line x1="673.81" y1="221.00" x2="673.81" y2="233.00"/><line x1="671.21" y1="221.00" x2="676.41" y2="221.00"/><line x1="671.21" y1="233.00" x2="676.41" y2="233.00"/></g><circle cx="466.33" cy="96.90" r="3.5" fill="#d95319"/><circle cx="501.51" cy="83.00" r="3.5" fill="#d95319"/><circle cx="524.69" cy="87.00" r="3.5" fill="#d95319"/><circle cx="542.00" cy="98.50" r="3.5" fill="#d95319"/><circle cx="555.82" cy="110.40" r="3.5" fill="#d95319"/><circle cx="567.33" cy="119.50" r="3.5" fill="#d95319"/><circle cx="577.18" cy="128.50" r="3.5" fill="#d95319"/><circle cx="585.81" cy="137.50" r="3.5" fill="#d95319"/><circle cx="593.47" cy="147.00" r="3.5" fill="#d95319"/><circle cx="600.36" cy="154.50" r="3.5" fill="#d95319"/><circle cx="606.63" cy="160.50" r="3.5" fill="#d95319"/><circle cx="612.37" cy="163.50" r="3.5" fill="#d95319"/><circle cx="617.67" cy="167.50" r="3.5" fill="#d95319"/><circle cx="622.59" cy="173.70" r="3.5" fill="#d95319"/><circle cx="627.19" cy="180.50" r="3.5" fill="#d95319"/><circle cx="631.49" cy="185.50" r="3.5" fill="#d95319"/><circle cx="635.55" cy="191.00" r="3.5" fill="#d95319"/><circle cx="639.37" cy="194.00" r="3.5" fill="#d95319"/><circle cx="643.00" cy="197.00" r="3.5" fill="#d95319"/><circle cx="646.44" cy="208.00" r="3.5" fill="#d95319"/><circle cx="649.72" cy="213.00" r="3.5" fill="#d95319"/><circle cx="652.86" cy="218.00" r="3.5" fill="#d95319"/><circle cx="655.85" cy="200.00" r="3.5" fill="#d95319"/><circle cx="658.72" cy="198.50" r="3.5" fill="#d95319"/><circle cx="661.48" cy="204.00" r="3.5" fill="#d95319"/><circle cx="664.13" cy="208.00" r="3.5" fill="#d95319"/><circle cx="666.68" cy="213.00" r="3.5" fill="#d95319"/><circle cx="669.14" cy="218.00" r="3.5" fill="#d95319"/><circle cx="671.51" cy="223.00" r="3.5" fill="#d95319"/><circle cx="673.81" cy="227.00" r="3.5" fill="#d95319"/><line x1="501.2" y1="53.2" x2="683.2" y2="236.8" stroke="#000" stroke-width="3.3" stroke-dasharray="3.3 3.1"/></g>
<g stroke="#0072bd" stroke-width="1.1"><line x1="462.50" y1="158.70" x2="462.50" y2="176.90"/><line x1="459.90" y1="158.70" x2="465.10" y2="158.70"/><line x1="459.90" y1="176.90" x2="465.10" y2="176.90"/></g><path d="M462.50 163.07L466.90 170.73L458.10 170.73Z" fill="#0072bd"/>
<g stroke="#edb120" stroke-width="1.1"><line x1="462.50" y1="182.80" x2="462.50" y2="201.60"/><line x1="459.90" y1="182.80" x2="465.10" y2="182.80"/><line x1="459.90" y1="201.60" x2="465.10" y2="201.60"/></g><rect x="459.80" y="189.30" width="5.40" height="5.40" fill="#edb120"/>
<g stroke="#d95319" stroke-width="1.1"><line x1="462.50" y1="207.80" x2="462.50" y2="226.30"/><line x1="459.90" y1="207.80" x2="465.10" y2="207.80"/><line x1="459.90" y1="226.30" x2="465.10" y2="226.30"/></g><circle cx="462.50" cy="216.80" r="3.3" fill="#d95319"/>
<line x1="449.9" y1="241.65" x2="476.0" y2="241.65" stroke="#000" stroke-width="3.2" stroke-dasharray="3.1 3.2"/>
<polyline points="478.90,162.70 475.90,167.55 478.90,172.40" fill="none" stroke="#000" stroke-width="0.7"/>
<text x="480.14" y="171.30" font-size="11.0" font-style="italic">C</text><text x="489.16" y="173.20" font-size="5.2" font-style="italic">τ</text><text x="491.76" y="176.50" font-size="3.8">2</text>
<text x="497.37" y="171.30" font-size="11.0">(</text><text x="502.57" y="171.30" font-size="11.0" font-style="italic">r</text><text x="506.06" y="171.30" font-size="11.0">,</text><text x="512.61" y="171.30" font-size="11.0" font-style="italic">θ</text><text x="522.71" y="171.30" font-size="11.0">=</text><text x="532.92" y="171.30" font-size="11.0">0</text><text x="540.09" y="171.30" font-size="11.0">)</text>
<polyline points="544.00,162.40 547.00,167.60 544.00,172.80" fill="none" stroke="#000" stroke-width="0.7"/>
<text x="475.71" y="195.70" font-size="11.0">−</text>
<polyline points="483.60,187.00 480.50,192.40 483.60,197.80" fill="none" stroke="#000" stroke-width="0.7"/>
<text x="485.14" y="195.70" font-size="11.0" font-style="italic">C</text><text x="494.56" y="197.60" font-size="5.2" font-style="italic">τ</text><text x="497.16" y="200.90" font-size="3.8">2</text>
<text x="503.67" y="195.70" font-size="11.0">(</text><text x="508.47" y="195.70" font-size="11.0" font-style="italic">r</text><text x="512.46" y="195.70" font-size="11.0">,</text><text x="518.71" y="195.70" font-size="11.0" font-style="italic">θ</text><text x="528.81" y="195.70" font-size="11.0">=</text><text x="539.49" y="195.70" font-size="11.5" font-family="Liberation Serif, serif">π</text><text x="544.75" y="195.70" font-size="11.0">/</text><text x="548.90" y="195.70" font-size="11.0">4</text><text x="556.29" y="195.70" font-size="11.0">)</text>
<polyline points="560.00,187.00 562.80,192.40 560.00,197.80" fill="none" stroke="#000" stroke-width="0.7"/>
<polyline points="478.90,211.40 476.30,216.25 478.90,221.10" fill="none" stroke="#000" stroke-width="0.7"/>
<text x="480.54" y="219.90" font-size="11.0" font-style="italic">C</text><text x="489.56" y="221.80" font-size="5.2" font-style="italic">τ</text><text x="491.76" y="225.10" font-size="3.8">2</text>
<line x1="483.0" y1="209.4" x2="488.8" y2="209.4" stroke="#000" stroke-width="0.8"/>
<text x="497.37" y="219.90" font-size="11.0">(</text><text x="502.57" y="219.90" font-size="11.0" font-style="italic">r</text><text x="508.09" y="219.90" font-size="11.0">)</text>
<polyline points="511.60,211.10 514.60,216.30 511.60,221.50" fill="none" stroke="#000" stroke-width="0.7"/>
<path d="M487.0 240.3 C484.6 240.2 483.6 243.5 481.4 243.5 C479.9 243.5 479.5 242.4 479.5 241.9 C479.5 241.3 479.9 240.2 481.4 240.2 C483.6 240.2 484.6 243.5 487.0 243.4" fill="none" stroke="#000" stroke-width="0.75"/>
<text x="492.16" y="245.30" font-size="11.5" font-style="italic">r</text>
<path d="M503.16 238.40 503.16 234.23 502.09 235.00 502.09 234.42 503.21 233.65 503.77 233.65 503.77 238.40Z" fill="#000"/><text x="505.52" y="238.40" font-size="6.9">.</text><text x="506.93" y="238.40" font-size="6.9">9</text><text x="511.60" y="238.40" font-size="6.9">7</text><text x="519.43" y="238.40" font-size="6.9">±</text><text x="525.98" y="238.40" font-size="6.9">0</text><text x="529.92" y="238.40" font-size="6.9">.</text><text x="531.78" y="238.40" font-size="6.9">0</text><text x="536.85" y="238.40" font-size="6.9">8</text>
<line x1="496.9" y1="236.5" x2="500.8" y2="236.5" stroke="#000" stroke-width="0.65"/>
</g>
</svg>
</body></html>
